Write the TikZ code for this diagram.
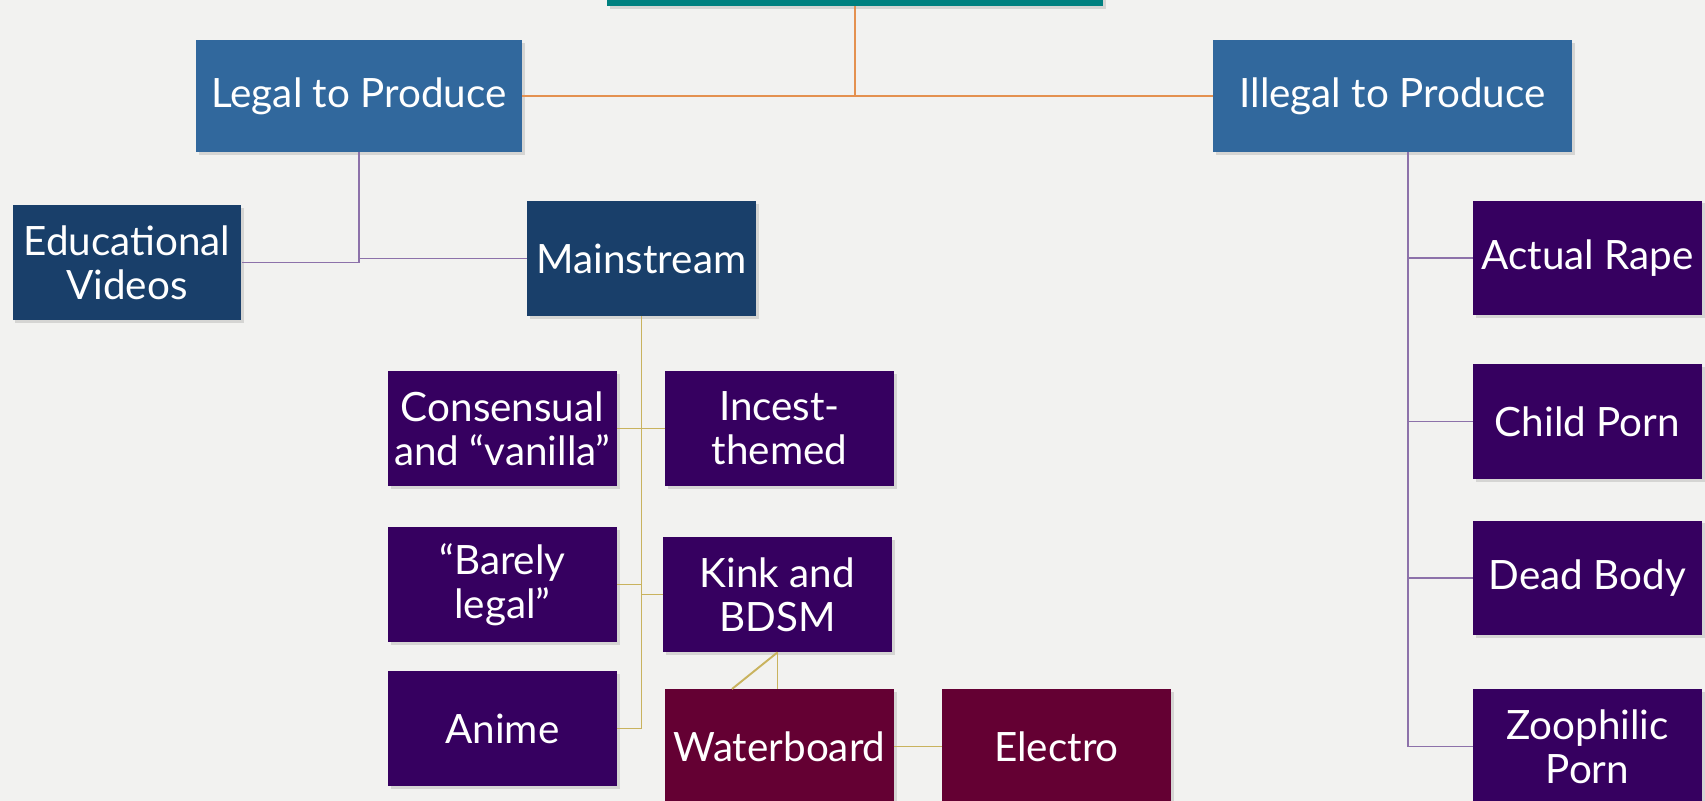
\documentclass[tikz,border=0pt]{standalone}
\usepackage{fontspec}
\setmainfont{Lato}
\usetikzlibrary{shadows}
\definecolor{pagebg}{HTML}{F2F2F0}
\definecolor{headteal}{HTML}{00807F}
\definecolor{levelblue}{HTML}{31689D}
\definecolor{navyblue}{HTML}{193F6A}
\definecolor{deepplum}{HTML}{360060}
\definecolor{wine}{HTML}{640033}
\definecolor{orangeline}{HTML}{E49150}
\definecolor{goldline}{HTML}{C9B35E}
\definecolor{lilacline}{HTML}{8D72AA}
\tikzset{
	box/.style={fill=#1, text=white, align=center, inner sep=0pt,
		minimum width=4.58cm, minimum height=2.3cm,
		font=\fontsize{23}{25}\selectfont,
		drop shadow={opacity=0.25, shadow xshift=1.5pt, shadow yshift=-1.5pt}},
	link/.style={draw=#1, line width=1.1pt}
}
\begin{document}
\begin{tikzpicture}[x=0.02cm, y=-0.02cm]
		\useasboundingbox (0, 0) rectangle (1705, 801);
		\fill [pagebg] (0, 0) rectangle (1705, 801);
		% top level
		\node [box=headteal, minimum width=9.92cm, minimum height=1.84cm] at (855, -40) (top) {};
		\node [box=levelblue, minimum width=6.52cm, minimum height=2.24cm] at (359, 96) (legal) {Legal to Produce};
		\node [box=levelblue, minimum width=7.18cm, minimum height=2.24cm] at (1392.5, 96) (illegal) {Illegal to Produce};
		% legal branch
		\node [box=navyblue] at (127, 262.5) (edu) {Educational\\Videos};
		\node [box=navyblue] at (641.5, 258.5) (main) {Mainstream};
		\node [box=deepplum] at (502.5, 428.5) (vanilla) {Consensual\\and “vanilla”};
		\node [box=deepplum] at (779.5, 428.5) (incest) {Incest-\\themed};
		\node [box=deepplum] at (502.5, 584.5) (barely) {“Barely\\legal”};
		\node [box=deepplum] at (777.5, 594.5) (kink) {Kink and\\BDSM};
		\node [box=deepplum] at (502.5, 728.5) (anime) {Anime};
		\node [box=wine] at (779.5, 746.5) (water) {Waterboard};
		\node [box=wine] at (1056.5, 746.5) (electro) {Electro};
		% illegal branch
		\node [box=deepplum] at (1587.5, 258) (rape) {Actual Rape};
		\node [box=deepplum] at (1587.5, 421.5) (child) {Child Porn};
		\node [box=deepplum] at (1587.5, 578) (dead) {Dead Body};
		\node [box=deepplum] at (1587.5, 746.5) (zoo) {Zoophilic\\Porn};
		\coordinate (ispine) at (1408, 152);
		\coordinate (wtop) at (732, 689);
		% connectors
		\draw [link=orangeline] (top.south) -- (top.south |- legal);
		\draw [link=orangeline] (legal) -- (illegal);
		\draw [link=lilacline] (legal) |- (edu);
		\draw [link=lilacline] (main) -- (main -| legal);
		\draw [link=goldline] (main.south) -- (main |- anime);
		\draw [link=goldline] (vanilla) -- (incest);
		\draw [link=goldline] (barely) -- (barely -| main);
		\draw [link=goldline] (kink) -- (kink -| main);
		\draw [link=goldline] (anime) -- (anime -| main);
		\draw [link=goldline] (kink.south) -- (kink.south |- water.north);
		\draw [link=goldline] (kink.south) -- (wtop);
		\draw [link=goldline] (water) -- (electro);
		\draw [link=lilacline] (ispine) |- (zoo);
		\draw [link=lilacline] (rape) -- (rape -| ispine);
		\draw [link=lilacline] (child) -- (child -| ispine);
		\draw [link=lilacline] (dead) -- (dead -| ispine);
	\end{tikzpicture}
\end{document}
